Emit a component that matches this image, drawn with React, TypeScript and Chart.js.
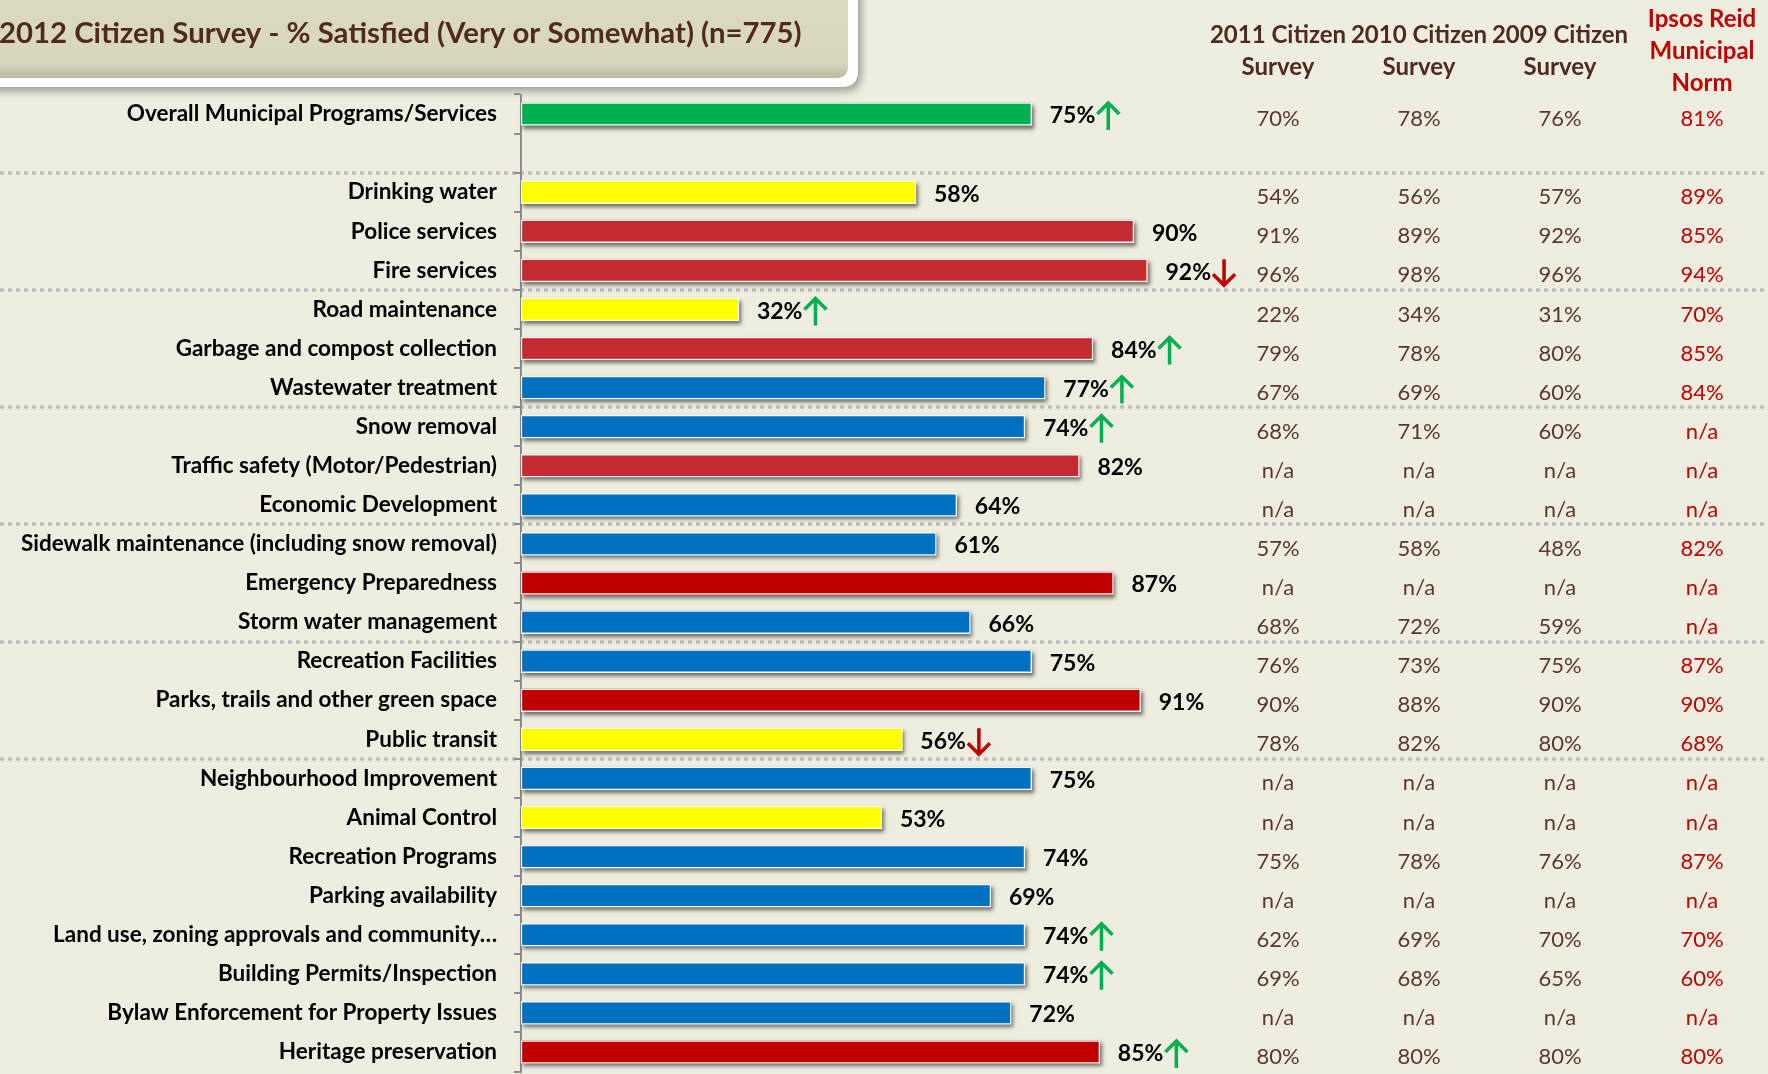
import React, { useEffect, useRef } from "react";
import { Chart, registerables } from "chart.js";
Chart.register(...registerables);

const categories = [
  "Overall Municipal Programs/Services",
  "",
  "Drinking water",
  "Police services",
  "Fire services",
  "Road maintenance",
  "Garbage and compost collection",
  "Wastewater treatment",
  "Snow removal",
  "Traffic safety (Motor/Pedestrian)",
  "Economic Development",
  "Sidewalk maintenance (including snow removal)",
  "Emergency Preparedness",
  "Storm water management",
  "Recreation Facilities",
  "Parks, trails and other green space",
  "Public transit",
  "Neighbourhood Improvement",
  "Animal Control",
  "Recreation Programs",
  "Parking availability",
  "Land use, zoning approvals and community…",
  "Building Permits/Inspection",
  "Bylaw Enforcement for Property Issues",
  "Heritage preservation",
];

const satisfied2012 = [75, null, 58, 90, 92, 32, 84, 77, 74, 82, 64, 61, 87, 66, 75, 91, 56, 75, 53, 74, 69, 74, 74, 72, 85];

const trend = ["up", "", "", "", "down", "up", "up", "up", "up", "", "", "", "", "", "", "", "down", "", "", "", "", "up", "up", "", "up"];

const survey2011 = ["70%", "", "54%", "91%", "96%", "22%", "79%", "67%", "68%", "n/a", "n/a", "57%", "n/a", "68%", "76%", "90%", "78%", "n/a", "n/a", "75%", "n/a", "62%", "69%", "n/a", "80%"];
const survey2010 = ["78%", "", "56%", "89%", "98%", "34%", "78%", "69%", "71%", "n/a", "n/a", "58%", "n/a", "72%", "73%", "88%", "82%", "n/a", "n/a", "78%", "n/a", "69%", "68%", "n/a", "80%"];
const survey2009 = ["76%", "", "57%", "92%", "96%", "31%", "80%", "60%", "60%", "n/a", "n/a", "48%", "n/a", "59%", "75%", "90%", "80%", "n/a", "n/a", "76%", "n/a", "70%", "65%", "n/a", "80%"];
const ipsosNorm = ["81%", "", "89%", "85%", "94%", "70%", "85%", "84%", "n/a", "n/a", "n/a", "82%", "n/a", "n/a", "87%", "90%", "68%", "n/a", "n/a", "87%", "n/a", "70%", "60%", "n/a", "80%"];

const columnHeaders = [
  ["2011 Citizen", "Survey"],
  ["2010 Citizen", "Survey"],
  ["2009 Citizen", "Survey"],
  ["Ipsos Reid", "Municipal", "Norm"],
];

const titleText = "2012 Citizen Survey - % Satisfied (Very or Somewhat) (n=775)";

// separators drawn above these category indices
const groupStarts = [2, 5, 8, 11, 14, 17];

// styles
const GREEN = "#00B050";
const YELLOW = "#FFFF00";
const RED1 = "#C42B2E";
const RED2 = "#C00000";
const BLUE = "#0070C0";
const barColors = [
  GREEN, "#000", YELLOW, RED1, RED1, YELLOW, RED1, BLUE, BLUE, RED1, BLUE, BLUE, RED2, BLUE,
  BLUE, RED2, YELLOW, BLUE, YELLOW, BLUE, BLUE, BLUE, BLUE, BLUE, RED2,
];

const BG = "#EFEDDF";
const BROWN = "#4F2A1E";
const VAL_BROWN = "#5A392C";
const FONT = "Lato";
const colX = [1278, 1419, 1560, 1702];

function drawArrow(ctx: CanvasRenderingContext2D, cx: number, cy: number, dir: string) {
  const h = 28;
  const head = 11;
  const top = cy - h / 2;
  const bot = cy + h / 2;
  ctx.save();
  ctx.strokeStyle = dir === "up" ? GREEN : RED2;
  ctx.lineWidth = 3.5;
  ctx.lineCap = "butt";
  ctx.lineJoin = "miter";
  ctx.beginPath();
  ctx.moveTo(cx, top + 1);
  ctx.lineTo(cx, bot);
  if (dir === "up") {
    ctx.moveTo(cx - head, top + head + 1);
    ctx.lineTo(cx, top + 1);
    ctx.lineTo(cx + head, top + head + 1);
  } else {
    ctx.moveTo(cx - head, bot - head - 1);
    ctx.lineTo(cx, bot - 1);
    ctx.lineTo(cx + head, bot - head - 1);
  }
  ctx.stroke();
  ctx.restore();
}

function roundRectPath(ctx: CanvasRenderingContext2D, x: number, y: number, w: number, h: number, r: number) {
  ctx.beginPath();
  ctx.moveTo(x, y);
  ctx.lineTo(x + w, y);
  ctx.lineTo(x + w, y + h - r);
  ctx.quadraticCurveTo(x + w, y + h, x + w - r, y + h);
  ctx.lineTo(x, y + h);
  ctx.closePath();
}

const backgroundPlugin = {
  id: "bgAndTitle",
  beforeDraw(chart: any) {
    const ctx: CanvasRenderingContext2D = chart.ctx;
    ctx.save();
    ctx.fillStyle = BG;
    ctx.fillRect(0, 0, chart.width, chart.height);

    // title box with white frame and shadow
    ctx.save();
    ctx.shadowColor = "rgba(0,0,0,0.35)";
    ctx.shadowBlur = 8;
    ctx.shadowOffsetX = 3;
    ctx.shadowOffsetY = 4;
    ctx.fillStyle = "#FFFFFF";
    roundRectPath(ctx, -20, -20, 878, 107, 16);
    ctx.fill();
    ctx.restore();
    const grad = ctx.createLinearGradient(0, 0, 0, 79);
    grad.addColorStop(0, "#DCD9C3");
    grad.addColorStop(0.8, "#D9D6BE");
    grad.addColorStop(1, "#B9B69F");
    ctx.fillStyle = grad;
    roundRectPath(ctx, -20, -20, 868, 98, 12);
    ctx.fill();

    // title text fitted to reference width
    ctx.fillStyle = BROWN;
    ctx.textBaseline = "middle";
    ctx.textAlign = "left";
    ctx.font = `bold 100px ${FONT}`;
    const w100 = ctx.measureText(titleText).width;
    const size = Math.min(32, (803 / w100) * 100);
    ctx.font = `bold ${size}px ${FONT}`;
    ctx.fillText(titleText, -1, 34);

    // separators
    const yScale = chart.scales.y;
    ctx.strokeStyle = "#BDBDBD";
    ctx.lineWidth = 3.5;
    ctx.setLineDash([4, 4]);
    groupStarts.forEach((i) => {
      const yy = Math.round((yScale.getPixelForValue(i - 1) + yScale.getPixelForValue(i)) / 2);
      ctx.beginPath();
      ctx.moveTo(0, yy);
      ctx.lineTo(chart.width, yy);
      ctx.stroke();
    });
    ctx.setLineDash([]);

    // column headers
    ctx.textAlign = "center";
    columnHeaders.forEach((lines, c) => {
      const isNorm = c === 3;
      ctx.fillStyle = isNorm ? RED2 : BROWN;
      ctx.font = `bold 24px ${FONT}`;
      const ys = isNorm ? [19, 51, 83] : [35, 67];
      lines.forEach((t, k) => ctx.fillText(t, colX[c], ys[k]));
    });
    ctx.restore();
  },
  beforeDatasetsDraw(chart: any) {
    const ctx: CanvasRenderingContext2D = chart.ctx;
    const meta = chart.getDatasetMeta(0);
    ctx.save();
    ctx.shadowColor = "rgba(0,0,0,0.55)";
    ctx.shadowBlur = 4;
    ctx.shadowOffsetX = 2;
    ctx.shadowOffsetY = 3;
    meta.data.forEach((el: any, i: number) => {
      if (satisfied2012[i] == null) return;
      const p = el.getProps(["x", "y", "base", "height"], true);
      ctx.fillStyle = barColors[i];
      ctx.fillRect(p.base, p.y - p.height / 2, p.x - p.base, p.height);
    });
    ctx.restore();
  },
  afterDatasetsDraw(chart: any) {
    const ctx: CanvasRenderingContext2D = chart.ctx;
    const meta = chart.getDatasetMeta(0);
    const yScale = chart.scales.y;
    ctx.save();
    ctx.textBaseline = "middle";
    meta.data.forEach((el: any, i: number) => {
      const v = satisfied2012[i];
      if (v == null) return;
      const p = el.getProps(["x", "y"], true);
      ctx.font = `bold 23px ${FONT}`;
      ctx.fillStyle = "#000";
      ctx.textAlign = "left";
      const label = `${v}%`;
      const lx = p.x + 18;
      ctx.fillText(label, lx, p.y + 2);
      const w = ctx.measureText(label).width;
      if (trend[i]) drawArrow(ctx, lx + w + 13, p.y + 2, trend[i]);
    });
    // table values
    const cols = [survey2011, survey2010, survey2009, ipsosNorm];
    ctx.textAlign = "center";
    ctx.font = `22px ${FONT}`;
    categories.forEach((_, i) => {
      const yy = yScale.getPixelForValue(i) + 5;
      cols.forEach((arr, c) => {
        if (!arr[i]) return;
        ctx.fillStyle = c === 3 ? RED2 : VAL_BROWN;
        ctx.fillText(arr[i], colX[c], yy);
      });
    });
    ctx.restore();
  },
};

export default function App() {
  const ref = useRef<HTMLCanvasElement | null>(null);
  useEffect(() => {
    if (!ref.current) return;
    const chart = new Chart(ref.current, {
      type: "bar",
      data: {
        labels: categories,
        datasets: [
          {
            data: satisfied2012 as any,
            backgroundColor: barColors,
            borderColor: "rgba(255,255,255,0.95)",
            borderWidth: 1.5,
            borderSkipped: false,
            barThickness: 23,
          },
        ],
      },
      options: {
        indexAxis: "y",
        responsive: false,
        animation: false,
        maintainAspectRatio: false,
        layout: { padding: { top: 94.5, right: 566, bottom: 2.5, left: 0 } },
        plugins: { legend: { display: false }, tooltip: { enabled: false }, title: { display: false } },
        scales: {
          x: { display: false, min: 0, max: 100 },
          y: {
            offset: true,
            grid: {
              offset: true,
              drawOnChartArea: false,
              drawTicks: true,
              tickLength: 7,
              color: "#8C8C8C",
              lineWidth: 2,
            },
            border: { display: true, color: "#8C8C8C", width: 2 },
            ticks: {
              autoSkip: false,
              padding: 17,
              color: "#000",
              font: { family: FONT, weight: "bold", size: 22.5 },
            },
            afterFit: (s: any) => {
              s.width = 521;
              s.paddingTop = 0;
              s.paddingBottom = 0;
            },
          },
        },
      },
      plugins: [backgroundPlugin],
    });
    return () => chart.destroy();
  }, []);
  return (
    <div style={{ position: "fixed", left: 0, top: 0, width: 1768, height: 1074 }}>
      <canvas ref={ref} width={1768} height={1074} style={{ width: 1768, height: 1074, display: "block" }} />
    </div>
  );
}
